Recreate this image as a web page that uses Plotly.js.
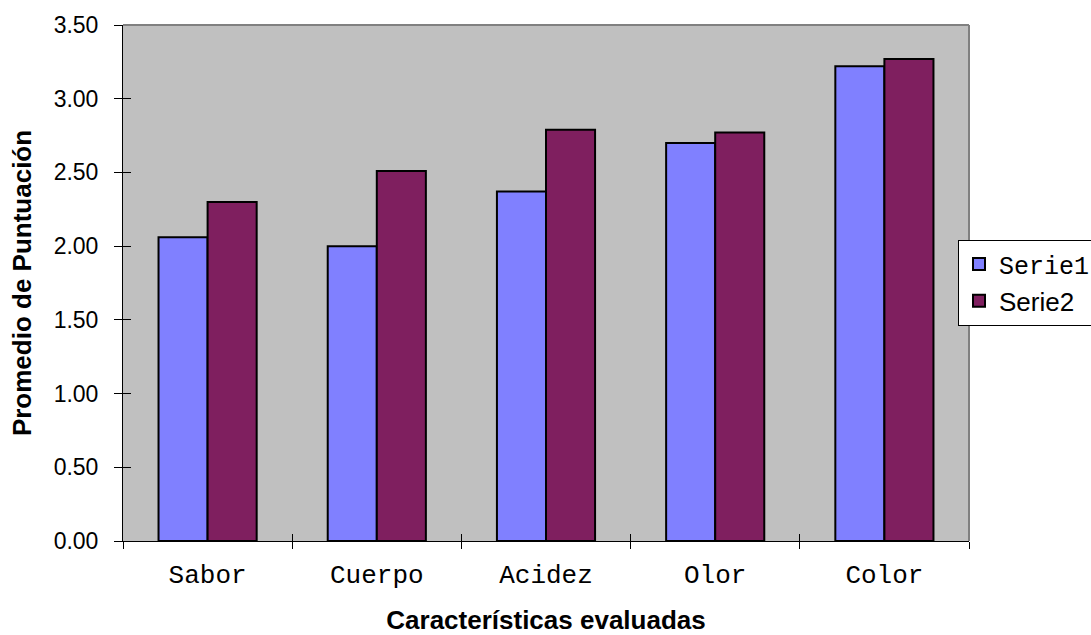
<!DOCTYPE html>
<html>
<head>
<meta charset="utf-8">
<script src="https://cdn.plot.ly/plotly-3.0.1.min.js"></script>
<style>
  html, body { margin: 0; padding: 0; background: #ffffff; }
  #chart { width: 1091px; height: 635px; }
</style>
</head>
<body>
<div id="chart"></div>
<script>
// Average scores per evaluated characteristic, two series
const categories = ['Sabor', 'Cuerpo', 'Acidez', 'Olor', 'Color'];
const serie1 = [2.06, 2.00, 2.37, 2.70, 3.22];
const serie2 = [2.30, 2.51, 2.79, 2.77, 3.27];
const seriesNames = ['Serie1', 'Serie2'];
const yTicks = [0, 0.5, 1, 1.5, 2, 2.5, 3, 3.5];

const sans = 'Liberation Sans, Arial, sans-serif';
const mono = 'Liberation Mono, Courier New, monospace';

const traces = [
  {
    type: 'bar', x: categories, y: serie1,
    name: '<span style="font-family:' + mono + ';font-size:25px">' + seriesNames[0] + '</span>',
    legendgroup: 'a',
    marker: { color: '#8080ff', line: { color: '#000000', width: 2 } },
    hoverinfo: 'x+y'
  },
  {
    type: 'bar', x: categories, y: serie2,
    name: seriesNames[1],
    legendgroup: 'b',
    marker: { color: '#7f1f5f', line: { color: '#000000', width: 2 } },
    hoverinfo: 'x+y'
  }
];

// Boundary positions for the inner half of the crossing x ticks
const boundaries = [];
for (let i = 0; i <= categories.length; i++) boundaries.push(i - 0.5);

const layout = {
  width: 1091, height: 635,
  margin: { l: 123, r: 122, t: 25, b: 94, autoexpand: false },
  paper_bgcolor: '#ffffff',
  plot_bgcolor: '#c0c0c0',
  barmode: 'group',
  bargap: 0.42,
  bargroupgap: 0,
  showlegend: true,
  font: { family: sans, size: 26, color: '#000000' },
  xaxis: {
    type: 'category',
    categoryarray: categories,
    range: [-0.5, categories.length - 0.5],
    tickson: 'boundaries',
    ticks: 'outside', ticklen: 7, tickwidth: 1, tickcolor: '#000000',
    ticklabelstandoff: 10,
    tickfont: { family: mono, size: 26, color: '#000000' },
    showline: true, linecolor: '#000000', linewidth: 1,
    showgrid: false, zeroline: false,
    automargin: false,
    title: { text: '<b>Características evaluadas</b>', font: { family: sans, size: 26 }, standoff: 22 }
  },
  xaxis2: {
    overlaying: 'x', type: 'linear',
    range: [-0.5, categories.length - 0.5],
    tickmode: 'array', tickvals: boundaries, showticklabels: false,
    ticks: 'inside', ticklen: 7, tickwidth: 1, tickcolor: '#000000',
    showgrid: false, zeroline: false, showline: false
  },
  yaxis: {
    range: [0, 3.5],
    tickmode: 'array', tickvals: yTicks,
    tickformat: '.2f',
    ticks: 'outside', ticklen: 8, tickwidth: 1, tickcolor: '#000000',
    ticklabelstandoff: 11,
    tickfont: { family: sans, size: 23, color: '#000000' },
    showline: true, linecolor: '#000000', linewidth: 1,
    showgrid: false, zeroline: false,
    automargin: false,
    title: { text: '<b>Promedio de Puntuación</b>', font: { family: sans, size: 26 }, standoff: 14 }
  },
  yaxis2: {
    overlaying: 'y', range: [0, 3.5],
    tickmode: 'array', tickvals: yTicks, showticklabels: false,
    ticks: 'inside', ticklen: 8, tickwidth: 1, tickcolor: '#000000',
    showgrid: false, zeroline: false, showline: false
  },
  legend: {
    x: 0.987, xanchor: 'left',
    y: 0.584, yanchor: 'top',
    bgcolor: '#ffffff', bordercolor: '#000000', borderwidth: 1,
    font: { family: sans, size: 26, color: '#000000' },
    traceorder: 'grouped', tracegroupgap: 0,
    itemwidth: 30
  },
  shapes: [
    // grey frame on the top and right of the plot area
    { type: 'line', xref: 'paper', yref: 'paper', x0: 0, x1: 1, y0: 1, y1: 1,
      line: { color: '#808080', width: 2 } },
    { type: 'line', xref: 'paper', yref: 'paper', x0: 1, x1: 1, y0: 0, y1: 1,
      line: { color: '#808080', width: 2 } }
  ]
};

// Invisible helper trace so the overlay axes render their tick marks
traces.push({ type: 'scatter', x: [0], y: [0], xaxis: 'x2', yaxis: 'y2',
  mode: 'markers', marker: { opacity: 0 }, showlegend: false, hoverinfo: 'skip' });

Plotly.newPlot('chart', traces, layout, { displayModeBar: false, staticPlot: true });
</script>
</body>
</html>
